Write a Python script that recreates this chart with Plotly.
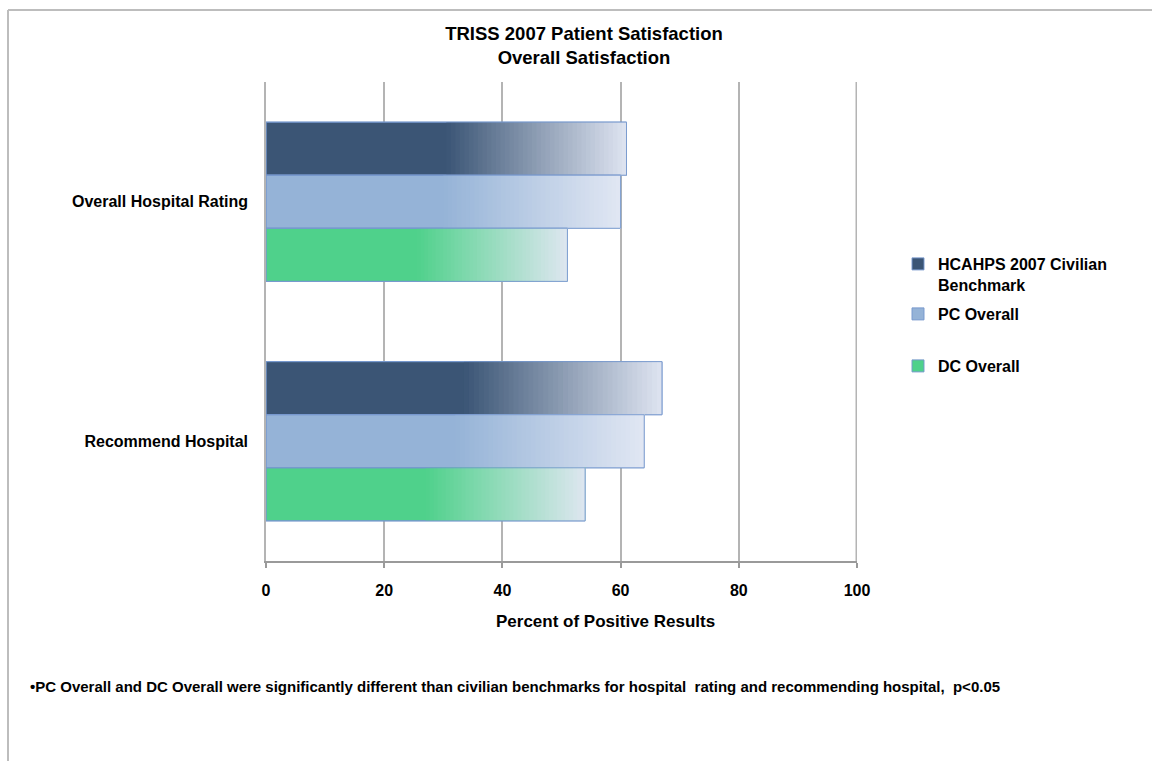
import plotly.graph_objects as go

# ---- data -------------------------------------------------------------
categories = ["Overall Hospital Rating", "Recommend Hospital"]
series_names = ["HCAHPS 2007 Civilian<br>Benchmark", "PC Overall", "DC Overall"]
hcahps_2007 = [61, 67]
pc_overall = [60, 64]
dc_overall = [51, 54]
x_ticks = [0, 20, 40, 60, 80, 100]

title_lines = ["TRISS 2007 Patient Satisfaction", "Overall Satisfaction"]
x_title = "Percent of Positive Results"
footnote = ("\u2022PC Overall and DC Overall were significantly different than civilian "
            "benchmarks for hospital  rating and recommending hospital,  p<0.05")

# ---- styling ----------------------------------------------------------
FONT = "Liberation Sans, Arial, sans-serif"
OUTLINE = "rgba(118,152,205,0.95)"
GRID = "#b4b4b4"
# (solid colour, faded end colour) for each series
palettes = [("#3b5575", "#dee4f1"), ("#95b3d7", "#e1e7f3"), ("#4fd18b", "#dee6f0")]
FADE_START = 0.5   # fraction of the bar length where the fade begins
STEPS = 40


def hex_rgb(h):
    h = h.lstrip("#")
    return tuple(int(h[i:i + 2], 16) for i in (0, 2, 4))


def mix(c0, c1, t):
    a, b = hex_rgb(c0), hex_rgb(c1)
    return "rgb({},{},{})".format(*(round(a[i] + (b[i] - a[i]) * t) for i in range(3)))


fig = go.Figure()
legend_ids = ["legend", "legend2", "legend3"]

for idx, (name, values) in enumerate(zip(series_names, [hcahps_2007, pc_overall, dc_overall])):
    solid, faded = palettes[idx]
    grp = f"s{idx}"
    # full-length solid bar (also provides the legend swatch)
    fig.add_trace(go.Bar(
        y=categories, x=values, orientation="h", name=name,
        offsetgroup=grp, legendgroup=grp, legend=legend_ids[idx],
        marker=dict(color=solid, line=dict(color=OUTLINE, width=1)),
        hoverinfo="skip",
    ))
    # horizontal fade: overlapping segments that each run to the bar end
    for k in range(STEPS):
        s = FADE_START + (1 - FADE_START) * k / STEPS
        t = (k + 0.5) / STEPS
        fig.add_trace(go.Bar(
            y=categories, x=[v * (1 - s) for v in values], base=[v * s for v in values],
            orientation="h", offsetgroup=grp, legendgroup=grp, showlegend=False,
            marker=dict(color=mix(solid, faded, t), line=dict(width=0)),
            hoverinfo="skip",
        ))
    # outline on top
    fig.add_trace(go.Bar(
        y=categories, x=values, orientation="h", offsetgroup=grp, legendgroup=grp,
        showlegend=False,
        marker=dict(color="rgba(0,0,0,0)", line=dict(color=OUTLINE, width=1)),
        hoverinfo="skip",
    ))

W, H = 1152, 761
L, R, T, B = 266, 295, 82, 200
pw, ph = W - L - R, H - T - B


def px_x(p):
    return (p - L) / pw


def px_y(p):
    return (H - B - p) / ph


legend_style = dict(
    xref="container", yref="container", xanchor="left", yanchor="top",
    font=dict(family=FONT, size=16, color="#000000", weight="bold"),
    bgcolor="rgba(0,0,0,0)", borderwidth=0, itemwidth=30, valign="top",
    itemclick=False, itemdoubleclick=False,
)

fig.update_layout(
    width=W, height=H,
    margin=dict(l=L, r=R, t=T, b=B),
    paper_bgcolor="white", plot_bgcolor="white",
    barmode="group", bargap=0.335, bargroupgap=0,
    font=dict(family=FONT, color="#000000"),
    title=dict(
        text="<br>".join(title_lines), xref="container", yref="container",
        x=584 / W, xanchor="center", y=1 - 40 / H, yanchor="middle",
        font=dict(family=FONT, size=18.5, color="#000000", weight="bold"),
    ),
    xaxis=dict(
        range=[0, 100], tickvals=x_ticks, ticktext=[str(v) for v in x_ticks],
        showgrid=True, gridcolor=GRID, gridwidth=1.5,
        zeroline=False, showline=True, linecolor="#9a9a9a", linewidth=1.5,
        ticks="outside", ticklen=5, tickcolor="#9a9a9a", tickwidth=1.5,
        ticklabelstandoff=9,
        tickfont=dict(family=FONT, size=16, color="#000000", weight="bold"),
        fixedrange=True,
    ),
    yaxis=dict(
        autorange="reversed", showgrid=False, zeroline=False,
        showline=True, linecolor=GRID, linewidth=1.5, ticks="",
        ticklabelstandoff=13,
        tickfont=dict(family=FONT, size=16, color="#000000", weight="bold"),
        fixedrange=True,
    ),
    legend=dict(x=898 / W, y=1 - 247 / H, **legend_style),
    legend2=dict(x=898 / W, y=1 - 297 / H, **legend_style),
    legend3=dict(x=898 / W, y=1 - 349 / H, **legend_style),
    showlegend=True,
)

# gridline at the top end of the value axis (Plotly skips the edge gridline;
# the shape is clipped at the plot edge, so draw it twice as wide)
fig.add_shape(type="line", xref="x", yref="paper", layer="below",
              x0=x_ticks[-1], x1=x_ticks[-1], y0=0, y1=1,
              line=dict(color=GRID, width=3))

# chart frame (left and top edges)
fig.add_shape(type="line", xref="paper", yref="paper",
              x0=px_x(8), x1=px_x(8), y0=px_y(10), y1=px_y(H + 5),
              line=dict(color="#bdbdbd", width=2))
fig.add_shape(type="line", xref="paper", yref="paper",
              x0=px_x(8), x1=px_x(W + 5), y0=px_y(10), y1=px_y(10),
              line=dict(color="#bdbdbd", width=2))

# x-axis title
fig.add_annotation(
    text=x_title, xref="paper", yref="paper",
    x=px_x(605), xanchor="center", y=px_y(621), yanchor="middle",
    showarrow=False, font=dict(family=FONT, size=17, color="#000000", weight="bold"),
)

fig.add_annotation(
    text=footnote, xref="paper", yref="paper",
    x=px_x(28), xanchor="left", y=px_y(686), yanchor="middle",
    showarrow=False, font=dict(family=FONT, size=15, color="#000000", weight="bold"),
)

fig.write_html("out.html", config={"displayModeBar": False})
